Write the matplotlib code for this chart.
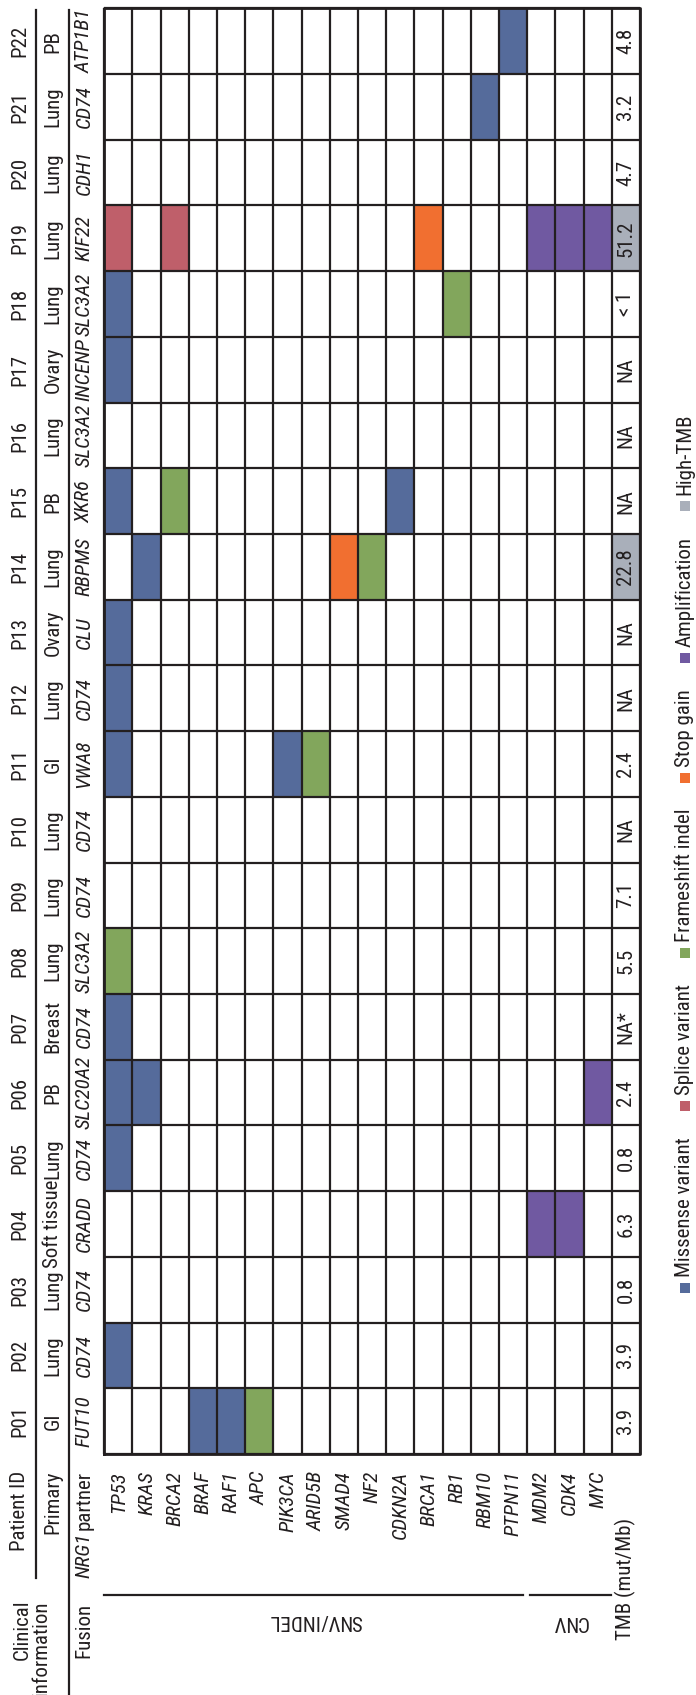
import matplotlib
matplotlib.use('Agg')
import matplotlib.pyplot as plt
import matplotlib.transforms as mtransforms
from matplotlib.patches import Rectangle
from matplotlib import font_manager

# pick a condensed face if one is around
names = set(f.name for f in font_manager.fontManager.ttflist)
for fam in ['Liberation Sans Narrow', 'Roboto Condensed', 'DejaVu Sans Condensed', 'Liberation Sans']:
    if fam in names:
        break
plt.rcParams['font.family'] = fam

patients = ['P%02d' % i for i in range(1, 23)]
primary = ['GI', 'Lung', 'Lung', 'Soft tissue', 'Lung', 'PB', 'Breast', 'Lung', 'Lung', 'Lung', 'GI',
           'Lung', 'Ovary', 'Lung', 'PB', 'Lung', 'Ovary', 'Lung', 'Lung', 'Lung', 'Lung', 'PB']
partner = ['FUT10', 'CD74', 'CD74', 'CRADD', 'CD74', 'SLC20A2', 'CD74', 'SLC3A2', 'CD74', 'CD74', 'VWA8',
           'CD74', 'CLU', 'RBPMS', 'XKR6', 'SLC3A2', 'INCENP', 'SLC3A2', 'KIF22', 'CDH1', 'CD74', 'ATP1B1']
snv_genes = ['TP53', 'KRAS', 'BRCA2', 'BRAF', 'RAF1', 'APC', 'PIK3CA', 'ARID5B', 'SMAD4', 'NF2',
             'CDKN2A', 'BRCA1', 'RB1', 'RBM10', 'PTPN11']
cnv_genes = ['MDM2', 'CDK4', 'MYC']
genes = snv_genes + cnv_genes
tmb = ['3.9', '3.9', '0.8', '6.3', '0.8', '2.4', 'NA*', '5.5', '7.1', 'NA', '2.4',
       'NA', 'NA', '22.8', 'NA', 'NA', 'NA', '< 1', '51.2', '4.7', '3.2', '4.8']
high_tmb = ['P14', 'P19']

# (patient, gene, alteration)
alterations = [
    ('P01', 'BRAF', 'Missense variant'), ('P01', 'RAF1', 'Missense variant'), ('P01', 'APC', 'Frameshift indel'),
    ('P02', 'TP53', 'Missense variant'),
    ('P04', 'MDM2', 'Amplification'), ('P04', 'CDK4', 'Amplification'),
    ('P05', 'TP53', 'Missense variant'),
    ('P06', 'TP53', 'Missense variant'), ('P06', 'KRAS', 'Missense variant'), ('P06', 'MYC', 'Amplification'),
    ('P07', 'TP53', 'Missense variant'),
    ('P08', 'TP53', 'Frameshift indel'),
    ('P11', 'TP53', 'Missense variant'), ('P11', 'PIK3CA', 'Missense variant'), ('P11', 'ARID5B', 'Frameshift indel'),
    ('P12', 'TP53', 'Missense variant'),
    ('P13', 'TP53', 'Missense variant'),
    ('P14', 'KRAS', 'Missense variant'), ('P14', 'SMAD4', 'Stop gain'), ('P14', 'NF2', 'Frameshift indel'),
    ('P15', 'TP53', 'Missense variant'), ('P15', 'BRCA2', 'Frameshift indel'), ('P15', 'CDKN2A', 'Missense variant'),
    ('P17', 'TP53', 'Missense variant'),
    ('P18', 'TP53', 'Missense variant'), ('P18', 'RB1', 'Frameshift indel'),
    ('P19', 'TP53', 'Splice variant'), ('P19', 'BRCA2', 'Splice variant'), ('P19', 'BRCA1', 'Stop gain'),
    ('P19', 'MDM2', 'Amplification'), ('P19', 'CDK4', 'Amplification'), ('P19', 'MYC', 'Amplification'),
    ('P21', 'RBM10', 'Missense variant'),
    ('P22', 'PTPN11', 'Missense variant'),
]

legend_labels = ['Missense variant', 'Splice variant', 'Frameshift indel', 'Stop gain', 'Amplification', 'High-TMB']
legend_colors = ['#556b9b', '#bf5f6a', '#82a65c', '#f16f30', '#7059a1', '#a9afba']
colors = dict(zip(legend_labels, legend_colors))

W, H = 696, 1695
FS = 15
fig = plt.figure(figsize=(W / 100, H / 100), dpi=100)
renderer = fig.canvas.get_renderer()
# pixel coords measured from the top-left corner
px = mtransforms.Affine2D().scale(1 / W, -1 / H).translate(0, 1) + fig.transFigure

gx0, gx1, gy0, gy1 = 104.3, 640, 8.3, 1454
ax = fig.add_axes([gx0 / W, 1 - gy1 / H, (gx1 - gx0) / W, (gy1 - gy0) / H])
ncol = len(genes) + 1
nrow = len(patients)
ax.set_xlim(0, ncol)
ax.set_ylim(0, nrow)
ax.axis('off')

lc = '#231f20'
for p, g, kind in alterations:
    ax.add_patch(Rectangle((genes.index(g), patients.index(p)), 1, 1, facecolor=colors[kind], edgecolor='none'))
for i, v in enumerate(tmb):
    if patients[i] in high_tmb:
        ax.add_patch(Rectangle((len(genes), i), 1, 1, facecolor=colors['High-TMB'], edgecolor='none'))
    ax.text(len(genes) + 0.5, i + 0.5, v, rotation=90, ha='center', va='center', fontsize=FS,
            color=lc, rotation_mode='anchor')

ax.hlines(range(nrow + 1), 0, ncol, color=lc, lw=1.6, clip_on=False)
ax.vlines(range(ncol + 1), 0, nrow, color=lc, lw=1.6, clip_on=False)
ax.plot([0, ncol, ncol, 0, 0], [0, 0, nrow, nrow, 0], color=lc, lw=2, clip_on=False)

rh = (gy1 - gy0) / nrow
cw = (gx1 - gx0) / ncol
tkw = dict(rotation=90, rotation_mode='anchor', va='center', fontsize=FS, color=lc, transform=px)

# clinical info columns
for i in range(nrow):
    yc = gy1 - (i + 0.5) * rh
    fig.text(20, yc, patients[i], ha='center', **tkw)
    fig.text(53, yc, primary[i], ha='center', **tkw)
    fig.text(84, yc, partner[i], ha='center', style='italic', **tkw)

fig.text(20, 1471, 'Patient ID', ha='right', **tkw)
fig.text(53, 1471, 'Primary', ha='right', **tkw)
t = fig.text(84, 1471, 'partner', ha='right', **tkw)
bb = t.get_window_extent(renderer)
fig.text(84, H - bb.y0 + 3, 'NRG1', ha='right', style='italic', **tkw)
fig.text(32, 1600, 'Clinical\ninformation', ha='right', multialignment='right', linespacing=1.0, **tkw)
fig.text(84, 1603, 'Fusion', ha='right', **tkw)

fig.add_artist(plt.Line2D([36, 36], [10, 1578], color=lc, lw=1.6, transform=px))
fig.add_artist(plt.Line2D([69, 69], [10, H], color=lc, lw=1.6, transform=px))

# gene labels under the grid
for j, g in enumerate(genes):
    fig.text(gx0 + (j + 0.5) * cw, 1471, g, ha='right', style='italic', **tkw)
fig.text(gx0 + (len(genes) + 0.5) * cw, 1640, 'TMB (mut/Mb)', ha='left', **tkw)

# group brackets
xs = gx0 + len(snv_genes) * cw
xe = gx0 + len(genes) * cw
fig.add_artist(plt.Line2D([gx0, xs - 4], [1595, 1595], color=lc, lw=1.6, transform=px))
fig.add_artist(plt.Line2D([xs + 3, xe - 1], [1595, 1595], color=lc, lw=1.6, transform=px))
fig.text((gx0 + xs) / 2, 1621, 'SNV/INDEL', rotation=180, ha='center', va='center', fontsize=FS,
         color=lc, transform=px)
fig.text((xs + xe) / 2, 1621, 'CNV', rotation=180, ha='center', va='center', fontsize=FS,
         color=lc, transform=px)

# legend, stacked upward
y = 1293
for lab, col in zip(legend_labels, legend_colors):
    fig.add_artist(Rectangle((680, y), 10, -10, facecolor=col, edgecolor='none', transform=px))
    t = fig.text(685, y - 16, lab, ha='left', **tkw)
    bb = t.get_window_extent(renderer)
    y = H - bb.y1 - 26

fig.savefig('out.png', dpi=100)
